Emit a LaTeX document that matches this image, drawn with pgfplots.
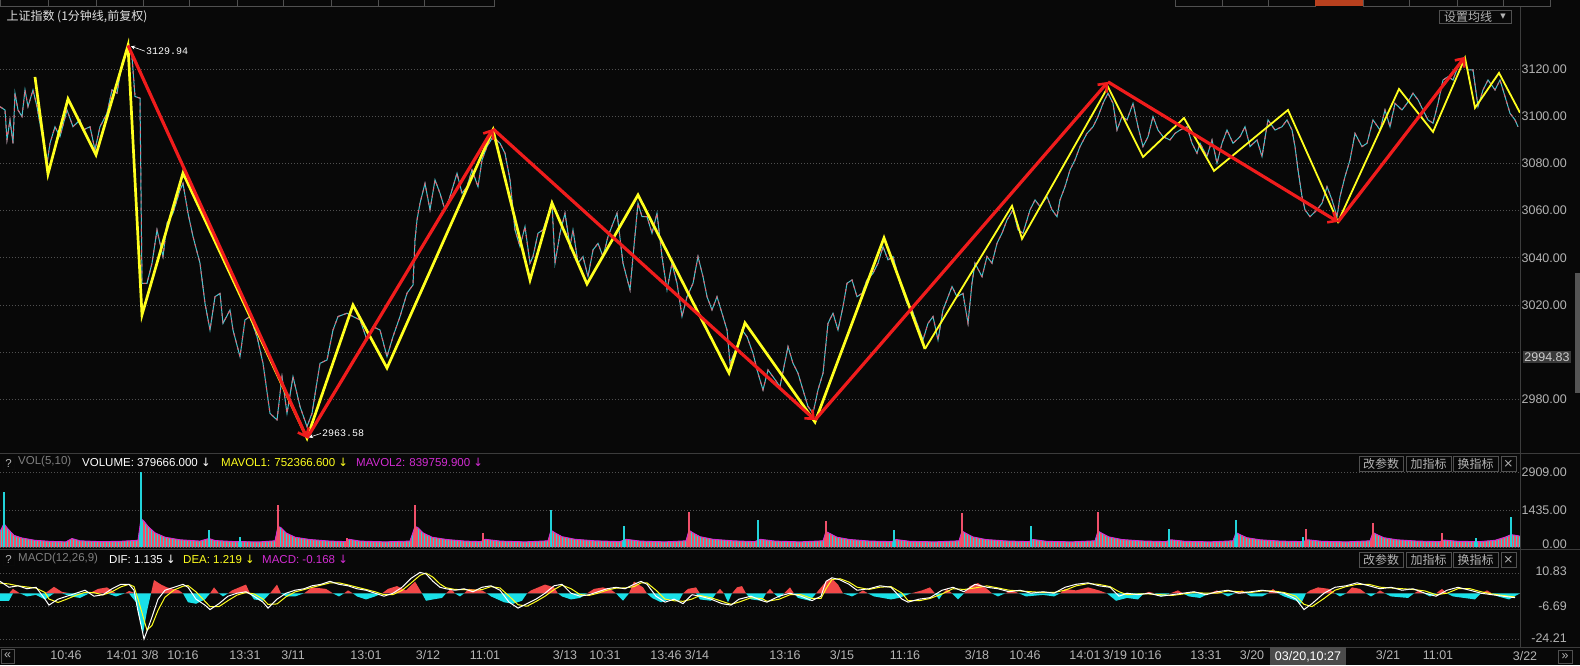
\documentclass[border=0pt]{standalone}
\usepackage{pgfplots}
\usepackage{pgfplotstable}
\pgfplotsset{compat=1.18}
\usetikzlibrary{arrows.meta,patterns.meta}
\usepackage{fontspec}
\setmainfont{Liberation Sans}
\newfontfamily\cjk{Noto Sans CJK SC}
\newfontfamily\mono{Liberation Mono}
\newfontfamily\dv{DejaVu Sans}
\newcommand\fs{\fontsize{12.5}{14}\selectfont}
\newcommand\fh{\fontsize{11.5}{13}\selectfont}

\definecolor{bg}{HTML}{080808}
\definecolor{gridc}{HTML}{505050}
\definecolor{sep}{HTML}{3C3C3C}
\definecolor{lbl}{HTML}{B4B4B4}
\definecolor{yel}{HTML}{FFFF1E}
\definecolor{zred}{HTML}{F01C1C}
\definecolor{pcyan}{HTML}{45C6CF}
\definecolor{pred}{HTML}{E06474}
\definecolor{vcyan}{HTML}{22D3DA}
\definecolor{vred}{HTML}{F0506A}
\definecolor{mag}{HTML}{D22CD2}
\definecolor{mred}{HTML}{F24848}
\definecolor{mcyan}{HTML}{19E0E8}
\definecolor{tabred}{HTML}{B8401E}
\definecolor{boxg}{HTML}{3A3A3A}
\definecolor{scrollg}{HTML}{555555}
\definecolor{curg}{HTML}{4B4B4B}

% 1-minute price
\pgfplotstableread{
x y
0 3104.0
5 3102.6
7 3089.9
10 3098.4
13 3088.5
15 3109.7
18 3102.6
22 3099.8
25 3111.1
28 3104.0
33 3111.1
37 3104.0
47 3080.0
50 3088.5
55 3095.5
60 3091.3
67 3102.6
73 3095.5
80 3098.4
83 3094.1
90 3095.5
95 3085.7
100 3095.5
107 3101.2
112 3111.1
117 3109.7
122 3122.4
127 3128.0
129 3129.9
132 3125.2
135 3108.3
140 3107.6
142 3029.2
147 3029.2
152 3037.7
157 3051.8
163 3040.5
167 3054.6
173 3058.9
180 3068.7
183 3071.5
188 3058.9
193 3049.0
200 3037.7
205 3020.7
210 3009.4
215 3023.5
220 3024.9
223 3012.2
230 3017.9
233 3009.4
240 2998.1
245 3013.7
250 3015.1
257 3006.6
263 2995.3
270 2974.1
277 2971.3
282 2989.6
287 2974.1
293 2989.6
300 2977.0
307 2968.5
312 2974.1
320 2995.3
327 2996.7
333 3009.4
338 3015.1
347 3016.5
353 3015.1
360 3013.7
367 3005.2
373 3010.8
380 3009.4
387 2998.1
393 3006.6
400 3015.1
407 3025.0
413 3028.5
415 3047.5
417 3056.0
420 3063.1
425 3071.5
430 3060.3
435 3073.0
440 3067.3
445 3060.3
450 3065.9
457 3075.8
462 3067.3
467 3070.1
472 3077.2
478 3070.1
482 3081.4
487 3087.1
493 3091.3
500 3088.5
505 3084.3
510 3073.0
515 3051.8
520 3044.7
525 3053.2
530 3037.7
533 3040.5
538 3050.4
543 3051.8
552 3063.1
555 3037.7
560 3050.4
565 3058.9
570 3044.7
573 3051.8
578 3037.7
583 3040.5
588 3032.0
593 3043.3
598 3046.1
603 3040.5
608 3049.0
613 3054.6
617 3058.9
623 3037.7
630 3026.4
633 3040.5
638 3063.1
642 3057.4
647 3057.4
652 3050.4
657 3058.9
662 3040.5
667 3026.4
672 3037.7
677 3029.2
682 3015.1
687 3023.5
693 3029.2
698 3040.5
703 3032.0
707 3023.5
712 3017.9
717 3023.5
722 3016.5
727 3009.4
730 2995.3
737 3002.4
742 3009.4
747 3006.6
753 2999.5
758 2991.1
763 2984.0
768 2992.5
773 2989.6
780 2985.4
788 3002.4
793 2995.3
798 2991.1
803 2984.0
808 2977.0
813 2974.1
818 2984.0
823 2991.1
826 3003.8
828 3012.2
833 3016.5
838 3009.4
843 3019.3
847 3029.2
852 3030.6
857 3023.5
862 3024.9
867 3030.6
873 3033.4
878 3037.7
883 3044.7
888 3039.1
893 3040.5
900 3029.2
907 3020.7
912 3017.9
917 3012.2
923 3005.2
928 3012.2
933 3015.1
938 3005.2
943 3017.9
952 3027.8
957 3023.5
963 3024.9
968 3012.2
972 3029.2
975 3037.7
982 3032.0
987 3040.5
992 3037.7
997 3046.1
1002 3050.4
1007 3056.0
1013 3060.3
1018 3051.8
1023 3050.4
1030 3060.3
1035 3064.5
1040 3061.7
1047 3065.9
1052 3060.3
1057 3057.4
1060 3064.5
1065 3070.1
1070 3077.2
1075 3081.4
1080 3087.1
1087 3092.7
1093 3095.5
1098 3099.8
1103 3105.4
1108 3109.7
1113 3105.4
1117 3094.1
1122 3099.8
1127 3098.4
1133 3105.4
1138 3095.5
1143 3087.1
1148 3091.3
1153 3099.8
1158 3094.1
1163 3091.3
1170 3089.9
1175 3092.7
1180 3094.1
1187 3095.5
1192 3088.5
1197 3084.3
1200 3088.5
1207 3082.9
1212 3089.9
1217 3080.0
1222 3088.5
1227 3094.1
1233 3088.5
1240 3091.3
1245 3095.5
1250 3087.1
1257 3089.9
1262 3082.9
1268 3098.4
1275 3094.1
1282 3095.5
1287 3098.4
1292 3094.1
1295 3087.1
1298 3077.2
1302 3065.9
1305 3060.3
1310 3057.4
1317 3060.3
1322 3063.1
1327 3070.1
1332 3064.5
1337 3057.4
1340 3065.9
1345 3074.4
1350 3081.4
1355 3092.7
1362 3087.1
1367 3088.5
1373 3098.4
1380 3094.1
1385 3102.6
1390 3095.5
1395 3105.4
1402 3102.6
1407 3105.4
1413 3109.7
1418 3106.9
1423 3102.6
1428 3098.4
1433 3097.0
1438 3105.4
1443 3115.3
1448 3116.7
1453 3115.3
1458 3121.0
1463 3123.8
1468 3119.6
1473 3119.6
1478 3104.0
1483 3111.1
1488 3115.3
1495 3111.1
1500 3115.3
1505 3108.3
1510 3101.2
1515 3098.4
1518 3095.5
}\price

% volume envelope (bar tops)
\pgfplotstableread{
x v
0 600
4 900
8 700
14 450
22 350
35 260
50 220
66 200
72 330
80 240
100 210
120 220
138 260
141 1100
144 1000
148 800
155 550
165 380
180 280
200 230
209 330
215 250
235 210
260 200
275 240
278 800
281 750
286 550
295 380
310 290
330 230
346 210
349 300
360 230
385 200
410 230
415 800
418 750
423 550
432 380
447 290
465 230
481 210
485 300
500 230
525 200
548 240
551 650
555 550
562 400
575 300
595 240
620 210
626 300
640 230
665 200
686 240
689 650
693 550
700 400
713 300
733 240
755 210
760 300
775 230
800 200
823 240
826 600
830 520
837 380
850 290
870 230
892 210
896 290
910 220
935 200
959 240
962 620
966 530
973 390
986 290
1006 235
1029 210
1033 290
1047 220
1072 200
1095 240
1098 620
1102 530
1109 390
1122 290
1142 235
1166 210
1171 280
1185 220
1210 200
1233 240
1236 560
1240 480
1247 360
1260 280
1280 230
1303 210
1308 280
1322 220
1347 200
1370 240
1373 560
1377 480
1384 360
1397 280
1417 230
1440 210
1444 270
1458 220
1480 210
1495 260
1505 380
1511 480
1516 450
1520 420
}\vol

\pgfplotstableread{
x v
4 2140
141 2905
209 650
240 380
551 1450
624 800
758 1050
894 650
1031 800
1169 700
1236 1050
1303 400
1476 350
1511 1175
}\spikec

\pgfplotstableread{
x v
278 1620
347 340
415 1620
483 530
689 1350
826 1000
962 1300
1098 1350
1306 700
1373 940
1442 540
}\spiker

% MACD histogram
\pgfplotstableread{
x h
0 -3.9
9 -3.9
13 2.4
20 0
27 -1.6
36 -0.8
45 -3.2
54 3.5
62 0.8
71 -1.6
80 -2.4
89 0
98 2.4
107 3.2
116 -1.6
125 0
129 1.3
136 -4.7
143 -21.3
147 -9.5
151 0
154 7.1
161 4.7
167 3.2
179 1.6
183 0
188 -4.7
196 -5.5
205 -3.2
210 0
214 3.2
219 0
223 -1.6
228 0
232 1.6
246 4.7
250 0
254 -3.2
263 -3.9
270 0
277 4.7
281 0
286 -1.6
295 -1.6
304 0
312 3.2
326 2.4
333 0
339 -1.6
344 0
348 1.6
353 0
357 -1.6
366 -3.2
375 -1.6
382 0
388 2.4
397 3.9
406 1.6
415 6.3
422 0
426 -3.9
433 -3.2
442 -2.4
446 0
451 2.4
455 0
460 -1.6
464 0
469 2.4
482 1.6
487 0
491 -1.6
504 -4.7
513 -5.5
522 -3.9
527 0
531 1.6
545 4.7
554 3.2
558 0
562 -1.6
571 -3.2
580 -2.4
587 0
594 2.4
603 3.2
612 1.6
616 0
623 -3.9
629 0
634 6.3
643 3.2
647 0
652 -2.4
661 -4.7
670 -3.2
679 -3.9
683 0
688 2.4
696 3.2
700 -3.2
711 -3.9
716 0
720 2.4
724 0
728 -4.7
732 0
737 3.2
742 3.9
746 0
751 -3.2
762 -3.9
766 0
770 2.4
774 0
779 -2.4
784 0
790 3.2
794 0
798 -2.4
810 -3.9
816 0
821 3.2
826 6.3
832 7.9
838 4.7
843 0
852 -1.6
858 0
863 1.6
868 0
874 -1.6
891 -3.2
899 -2.4
911 0
922 1.6
930 3.2
935 0
939 -3.2
943 0
947 2.4
952 0
958 -3.2
964 0
970 3.9
978 5.5
987 2.4
992 0
998 -1.6
1005 0
1012 1.6
1019 0
1026 -1.6
1043 -0.8
1054 -1.6
1060 0
1065 2.4
1076 1.6
1088 3.2
1099 1.6
1107 0
1116 -3.9
1127 -2.4
1138 -3.2
1144 0
1149 0.8
1155 0
1161 -1.6
1170 0
1178 1.6
1183 0
1189 -1.6
1200 -2.4
1209 0
1217 1.6
1222 0
1228 -1.6
1235 0
1242 1.6
1246 0
1251 -1.6
1262 -1.6
1268 0
1273 2.4
1278 0
1284 -1.6
1296 -3.9
1301 -5.5
1306 0
1310 1.6
1318 3.2
1329 2.4
1335 0
1340 -1.6
1346 0
1352 3.2
1360 2.4
1366 0
1371 -1.6
1376 0
1380 1.6
1385 0
1391 -1.6
1408 -2.4
1414 0
1419 1.6
1424 0
1430 -1.6
1436 0
1442 2.4
1447 0
1453 -1.6
1464 -2.4
1475 -3.2
1481 0
1487 1.6
1492 0
1498 -1.6
1509 -3.2
1520 0
}\hist

% DIF (white) and DEA (yellow)
\pgfplotstableread{
x dif dea
0 6.41 5.5
9 3.25 5.0
18 4.04 4.0
27 2.46 3.4
36 3.25 2.8
45 -3.06 0.5
49 -6.21 -3.0
58 -3.06 -4.8
67 -1.48 -3.0
76 0.10 -1.0
85 1.68 0.6
94 -1.48 0.4
103 -0.69 -0.8
112 2.46 0.9
121 4.83 3.5
129 4.83 4.8
134 1.68 3.6
138 -9.37 -3.0
144 -24.2 -14.0
147 -20.0 -19.5
152 -12.5 -17.0
158 -3.06 -9.0
165 1.68 -2.0
174 3.25 1.8
183 4.83 3.8
188 3.25 4.2
196 -3.06 0.8
205 -6.21 -4.2
210 -8.58 -7.0
219 -5.43 -7.0
228 -1.48 -3.8
237 0.10 -0.9
246 0.89 0.5
254 -1.48 -0.3
263 -4.64 -3.0
268 -7.79 -5.8
277 -3.06 -5.6
286 0.10 -1.8
295 1.68 0.8
304 2.46 2.0
312 4.04 3.2
321 4.83 4.4
330 6.41 5.6
339 4.83 5.6
348 4.04 4.5
357 2.46 3.3
366 1.68 2.1
375 0.10 0.9
384 -1.48 -0.7
393 0.10 -0.6
402 3.25 1.6
411 7.99 5.5
420 11.14 9.6
426 10.35 10.8
433 6.41 8.6
440 3.25 5.0
446 2.46 3.0
455 1.68 2.1
464 2.46 2.0
473 0.89 1.7
482 3.25 2.0
491 4.04 3.6
500 1.68 2.9
509 -4.64 -1.4
518 -7.79 -6.0
527 -5.43 -6.8
536 -3.06 -4.3
545 0.10 -1.5
554 4.04 2.0
562 4.83 4.4
571 0.10 2.5
580 -1.48 -0.6
589 -0.69 -1.1
598 0.89 0.1
607 2.46 1.7
616 3.25 2.8
625 2.46 2.9
634 4.83 3.6
641 6.41 5.6
647 4.83 5.6
656 -1.48 1.7
665 -4.64 -3.0
674 -3.06 -3.9
683 -5.43 -4.2
692 -0.69 -3.0
700 -1.48 -1.1
711 -3.06 -2.3
722 -5.43 -4.2
731 -6.21 -5.8
739 -3.06 -4.6
751 -1.48 -2.3
762 -3.85 -2.7
767 -4.64 -4.2
779 -1.48 -3.1
790 0.10 -0.7
801 -1.48 -0.7
812 -3.85 -2.7
821 -1.48 -2.7
826 6.41 2.5
832 8.30 7.4
840 7.20 7.8
849 4.83 6.0
857 1.68 3.3
869 2.46 2.1
880 4.04 3.3
891 3.25 3.6
902 -3.06 0.1
908 -4.64 -3.8
919 -3.06 -3.9
930 -2.27 -2.7
942 1.68 -0.3
953 3.25 2.5
964 0.89 2.1
975 4.83 2.9
987 3.25 4.0
998 2.46 2.9
1009 0.89 1.7
1020 1.68 1.3
1031 0.10 0.9
1043 0.89 0.5
1054 0.10 0.5
1065 3.25 1.7
1076 4.83 4.0
1088 5.62 5.2
1099 4.04 4.8
1110 3.25 3.6
1119 -1.48 0.9
1127 0.10 -0.7
1138 -0.69 -0.3
1149 0.10 -0.3
1161 -1.48 -0.7
1172 -0.69 -1.1
1183 0.10 -0.3
1194 0.89 0.5
1206 -0.69 0.1
1217 0.89 0.1
1228 1.68 1.3
1239 0.10 0.9
1251 0.89 0.5
1262 1.68 1.3
1273 0.89 1.3
1284 0.10 0.5
1296 -3.06 -1.5
1304 -8.58 -5.8
1312 -5.43 -7.0
1324 0.10 -2.7
1335 3.25 1.7
1346 4.04 3.6
1357 5.62 4.8
1369 4.04 4.8
1380 2.46 3.3
1391 3.25 2.9
1402 1.68 2.5
1413 2.46 2.1
1425 0.10 1.3
1436 -1.48 -0.7
1447 1.68 0.1
1458 3.25 2.5
1470 1.68 2.5
1481 0.10 0.9
1492 -0.69 -0.3
1503 -1.48 -1.1
1515 -2.27 -1.9
}\macd

\pgfplotsset{
  panel/.style={
    scale only axis, width=1520pt, xmin=0, xmax=1520,
    anchor=south west,
    axis line style={draw=none}, tick style={draw=none},
    major tick length=0pt, xtick=\empty,
    ymajorgrids,
    grid style={gridc, line width=0.8pt, dash pattern=on 1pt off 2pt},
    yticklabel pos=right,
    yticklabel style={anchor=east, inner sep=0pt, xshift=47pt, text=lbl, font=\fs},
  },
  zz/.style={zred, line width=3.2pt,
    -{Straight Barb[length=7pt,width=12pt,line width=2.6pt]}},
}

\begin{document}
\begin{tikzpicture}[x=1pt,y=1pt]
\fill[bg] (0pt,0pt) rectangle (1580pt,665pt);

% ---------- price panel ----------
\begin{axis}[panel, at={(0pt,212pt)}, height=445pt,
  ymin=2957.3, ymax=3145.8,
  ytick={2980,3000,3020,3040,3060,3080,3100,3120},
  yticklabels={2980.00,,3020.00,3040.00,3060.00,3080.00,3100.00,3120.00}]
\addplot[pcyan, line width=1pt] table {\price};
\addplot[pred, line width=1pt, dash pattern=on 3pt off 4pt] table {\price};
\addplot[yel, line width=2.7pt, line join=miter] coordinates {
  (35,3116.6) (48,3075.5) (68,3107.3) (96,3083.6) (128,3129.94) (142,3015.8)
  (183,3075.9) (307,2963.58) (353,3020.0) (387,2993.3) (493,3094.2) (530,3030.6)
  (552,3063.2) (587,3028.9) (638,3066.6) (729,2991.2) (745,3012.4) (815,2970.4)
  (884,3048.4) (925,3001.4)};
\addplot[yel, line width=1.8pt, line join=miter] coordinates {
  (925,3001.4) (1012,3062.0) (1022,3048.0) (1108,3112.4) (1143,3082.7) (1184,3099.2)
  (1214,3076.8) (1288,3102.6) (1338,3055.2) (1399,3111.5) (1433,3093.3) (1465,3124.7)
  (1475,3103.5) (1499,3118.3) (1520,3101.4)};
\addplot[zz] coordinates {(128,3129.94) (307,2963.58)};
\addplot[zz] coordinates {(307,2963.58) (493,3094.6)};
\addplot[zz] coordinates {(493,3094.6) (815,2971.3)};
\addplot[zz] coordinates {(815,2971.3) (1108,3114.5)};
\addplot[zz] coordinates {(1108,3114.5) (1338,3055.2)};
\addplot[zz] coordinates {(1338,3055.2) (1465,3125.1)};
\draw[white, line width=0.6pt, -{Stealth[length=4pt,width=4pt]}]
  (axis cs:145,3127.5) -- (axis cs:131,3129.6);
\node[anchor=west, inner sep=0pt, text=white, font=\mono\fontsize{10}{12}\selectfont]
  at (axis cs:146,3127.5) {3129.94};
\draw[white, line width=0.6pt, -{Stealth[length=4pt,width=4pt]}]
  (axis cs:321,2965.6) -- (axis cs:309,2963.9);
\node[anchor=west, inner sep=0pt, text=white, font=\mono\fontsize{10}{12}\selectfont]
  at (axis cs:322,2965.8) {2963.58};
\end{axis}

% ---------- volume panel ----------
\begin{axis}[panel, at={(0pt,116pt)}, height=96pt,
  ymin=-77.6, ymax=3646,
  ytick={0,1435,2909},
  yticklabels={\raisebox{5pt}{0.00},1435.00,2909.00}]
\addplot[draw=none, fill=vcyan] table {\vol} \closedcycle;
\addplot[draw=none, pattern={Lines[angle=90,distance=3pt,line width=1.3pt]},
  pattern color=vred] table {\vol} \closedcycle;
\addplot[mag, line width=0.9pt] table {\vol};
\addplot[ycomb, vcyan, line width=1.3pt] table {\spikec};
\addplot[ycomb, vred, line width=1.3pt] table {\spiker};
\end{axis}

% ---------- MACD panel ----------
\begin{axis}[panel, at={(0pt,18pt)}, height=98pt,
  ymin=-28.45, ymax=23.57,
  ytick={-24.21,-6.69,10.83},
  yticklabels={\raisebox{2pt}{-24.21},-6.69,\raisebox{3pt}{10.83}},
  xtick={66,122,150,183,245,293,366,428,485,565,605,666,697,785,842,905,977,1025,1085,1115,1146,1206,1252,1388,1438},
  xticklabels={10:46,14:01,3/8,10:16,13:31,3/11,13:01,3/12,11:01,3/13,10:31,13:46,3/14,13:16,3/15,11:16,3/18,10:46,14:01,3/19,10:16,13:31,3/20,3/21,11:01},
  xticklabel style={text=lbl, font=\fs}]
\addplot[draw=none, fill=mred] table[y expr={max(\thisrow{h},0)}] {\hist} \closedcycle;
\addplot[draw=none, fill=mcyan] table[y expr={min(\thisrow{h},0)}] {\hist} \closedcycle;
\addplot[yel, line width=1pt] table[y=dea] {\macd};
\addplot[white, line width=1pt] table[y=dif] {\macd};
\end{axis}

% ---------- frame, separators and labels ----------
\draw[sep, line width=1pt] (0,212) -- (1580,212);
\draw[sep, line width=1pt] (0,116) -- (1580,116);
\draw[sep, line width=1pt] (0,18) -- (1580,18);
\draw[sep, line width=1pt] (1520,18) -- (1520,658);

% top tabs
\foreach \a/\b in {0/48,48/96,96/143,143/189,189/237,237/283,283/331,331/378,378/424,424/494,
  1175/1222,1222/1268,1268/1315,1363/1409,1409/1457,1457/1503,1503/1550}
  \draw[gridc, line width=0.8pt] (\a,659) rectangle (\b,666);
\fill[tabred] (1315,659) rectangle (1363,666);

\node[anchor=west, text=white!88!black, font=\cjk\fontsize{12}{14}\selectfont] at (3,648) {上证指数 (1分钟线,前复权)};
\draw[gridc, line width=0.8pt] (1439,642) rectangle (1511,655);
\node[text=lbl, font=\cjk\fontsize{12}{14}\selectfont, inner sep=0pt] at (1468,648.5) {设置均线};
\node[text=lbl, font=\dv\fontsize{7}{8}\selectfont, inner sep=0pt] at (1503,648.5) {▼};

\fill[boxg] (1523,302) rectangle (1571,314);
\node[text=white!80!black, font=\fs, inner sep=0pt] at (1547,308) {2994.83};
\fill[scrollg] (1575,272) rectangle (1580,392);

% volume header
\draw[gridc!140, line width=0.7pt] (3,196) rectangle (14,208);
\node[text=lbl, font=\fh, inner sep=0pt] at (8.5,202) {?};
\node[anchor=west, inner sep=0pt, text=gray, font=\fh] at (18,203) {VOL(5,10)};
\node[anchor=west, inner sep=0pt, text=white, font=\fh] at (82,203) {VOLUME: 379666.000 {\dv↓}};
\node[anchor=west, inner sep=0pt, text=yel, font=\fh] at (221,203) {MAVOL1: 752366.600 {\dv↓}};
\node[anchor=west, inner sep=0pt, text=mag, font=\fh] at (356,203) {MAVOL2: 839759.900 {\dv↓}};

% MACD header
\draw[gridc!140, line width=0.7pt] (3,100) rectangle (14,112);
\node[text=lbl, font=\fh, inner sep=0pt] at (8.5,106) {?};
\node[anchor=west, inner sep=0pt, text=gray, font=\fh] at (18,106) {MACD(12,26,9)};
\node[anchor=west, inner sep=0pt, text=white, font=\fh] at (109,106) {DIF: 1.135 {\dv↓}};
\node[anchor=west, inner sep=0pt, text=yel, font=\fh] at (183,106) {DEA: 1.219 {\dv↓}};
\node[anchor=west, inner sep=0pt, text=mag, font=\fh] at (262,106) {MACD: -0.168 {\dv↓}};

% buttons
\foreach \yb/\yt in {194/209,98/113}{
  \draw[gridc, line width=0.8pt] (1359,\yb) rectangle (1403,\yt);
  \draw[gridc, line width=0.8pt] (1406,\yb) rectangle (1451,\yt);
  \draw[gridc, line width=0.8pt] (1453,\yb) rectangle (1498,\yt);
  \draw[gridc, line width=0.8pt] (1501,\yb) rectangle (1516,\yt);
  \node[text=lbl, font=\cjk\fontsize{12}{14}\selectfont, inner sep=0pt] at (1381,{(\yb+\yt)/2}) {改参数};
  \node[text=lbl, font=\cjk\fontsize{12}{14}\selectfont, inner sep=0pt] at (1428.5,{(\yb+\yt)/2}) {加指标};
  \node[text=lbl, font=\cjk\fontsize{12}{14}\selectfont, inner sep=0pt] at (1475.5,{(\yb+\yt)/2}) {换指标};
  \node[text=lbl, font=\dv\fontsize{12}{14}\selectfont, inner sep=0pt] at (1508.5,{(\yb+\yt)/2}) {×};
}

% bottom bar
\draw[gridc, line width=0.8pt] (1,2) rectangle (14,16);
\node[text=lbl, font=\fs, inner sep=0pt] at (7.5,9) {«};
\draw[gridc, line width=0.8pt] (1558,2) rectangle (1572,15);
\node[text=lbl, font=\fs, inner sep=0pt] at (1565,8.5) {»};
\fill[curg] (1270,0) rectangle (1346,18);
\node[text=white, font=\fs, inner sep=0pt] at (1308,8.5) {03/20,10:27};
\node[text=lbl, font=\fs, inner sep=0pt] at (1525,9) {3/22};

\pgfresetboundingbox
\path[use as bounding box] (0,0) rectangle (1580,665);
\end{tikzpicture}
\end{document}
